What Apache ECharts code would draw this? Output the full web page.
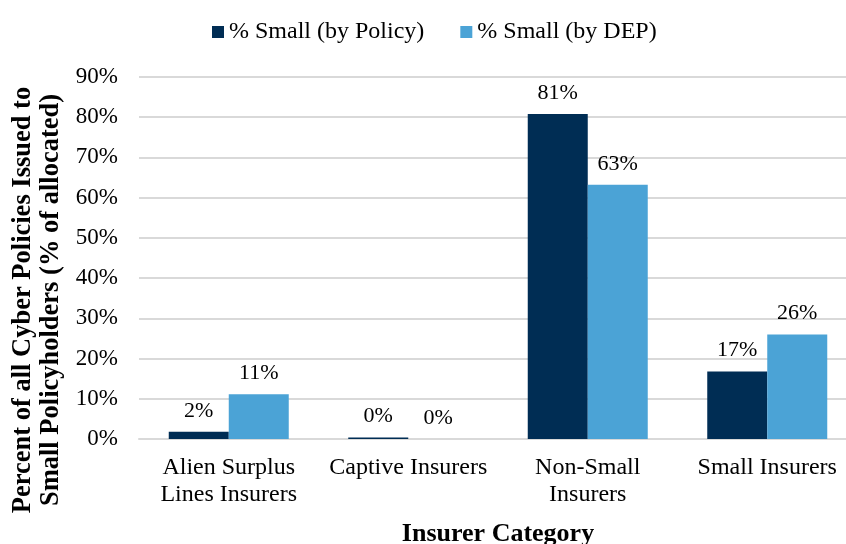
<!DOCTYPE html>
<html><head><meta charset="utf-8">
<script src="https://cdn.jsdelivr.net/npm/echarts@6/dist/echarts.min.js"></script>
<style>html,body{margin:0;padding:0;background:#fff}#c{width:846px;height:544px;overflow:hidden}</style>
</head><body><div id="c"></div>
<script>
const categories = ['Alien Surplus\nLines Insurers', 'Captive Insurers', 'Non-Small\nInsurers', 'Small Insurers'];
const seriesNames = ['% Small (by Policy)', '% Small (by DEP)'];
const byPolicy = [1.8, 0.4, 80.8, 16.8];
const byDEP = [11.1, 0.0, 63.2, 26.0];
const yTicks = [0, 10, 20, 30, 40, 50, 60, 70, 80, 90];

const font = 'Liberation Serif, Times New Roman, serif';
const chart = echarts.init(document.getElementById('c'), null, {renderer: 'canvas'});
const lbl = {show: true, position: 'top', distance: 10, color: '#000', fontFamily: font, fontSize: 22,
  formatter: p => Math.round(p.value) + '%'};
chart.setOption({
  animation: false,
  textStyle: {fontFamily: font},
  legend: {
    top: 15, left: 207, itemWidth: 12, itemHeight: 12, itemGap: 36,
    icon: 'rect',
    textStyle: {fontFamily: font, fontSize: 24, color: '#000'},
    data: seriesNames
  },
  grid: {left: 139, right: -11, top: 77, bottom: 105, containLabel: false, outerBoundsMode: 'none'},
  xAxis: {
    type: 'category', data: categories,
    axisLine: {lineStyle: {color: '#d9d9d9', width: 2}},
    axisTick: {show: false},
    axisLabel: {interval: 0, color: '#000', fontFamily: font, fontSize: 24, margin: 15, lineHeight: 27},
    name: 'Insurer Category', nameLocation: 'middle', nameGap: 82, nameTextStyle: {
      color: '#000', fontFamily: font, fontSize: 26, fontWeight: 'bold'}
  },
  yAxis: {
    type: 'value', min: yTicks[0], max: yTicks[yTicks.length - 1], interval: 10,
    axisLine: {show: false}, axisTick: {show: false},
    splitLine: {lineStyle: {color: '#d9d9d9', width: 2}},
    axisLabel: {color: '#000', fontFamily: font, fontSize: 23, margin: 21, formatter: v => v + '%'},
    name: 'Percent of all Cyber Policies Issued to\nSmall Policyholders (% of allocated)',
    nameLocation: 'middle', nameGap: 74, nameRotate: 90,
    nameTextStyle: {color: '#000', fontFamily: font, fontSize: 26.5, fontWeight: 'bold', lineHeight: 28,
      padding: [0, 84, 0, 0]}
  },
  series: [
    {name: seriesNames[0], type: 'bar', data: byPolicy, barWidth: 60, barGap: '0%',
      itemStyle: {color: '#002d54'}, label: lbl},
    {name: seriesNames[1], type: 'bar', data: byDEP, barWidth: 60, barGap: '0%',
      itemStyle: {color: '#4ba3d6'}, label: lbl}
  ]
});
</script></body></html>
